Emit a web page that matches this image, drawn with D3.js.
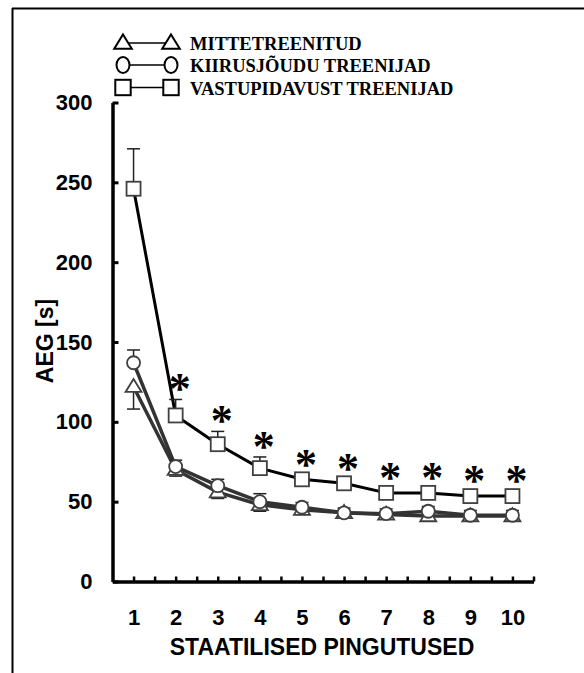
<!DOCTYPE html>
<html>
<head>
<meta charset="utf-8">
<script src="https://cdn.jsdelivr.net/npm/d3@7"></script>
<style>
  body { margin: 0; background: #fff; }
  svg { display: block; }
</style>
</head>
<body>
<svg id="chart" width="584" height="673"></svg>
<script>
// Data
// ----
const sessions = [1, 2, 3, 4, 5, 6, 7, 8, 9, 10];
const seriesNames = ["MITTETREENITUD", "KIIRUSJÕUDU TREENIJAD", "VASTUPIDAVUST TREENIJAD"];
const untrained = [122, 70, 56, 48, 45, 43, 42, 41, 41, 41];
const untrainedErr = [14, 4, 4, 4, 3, 3, 3, 3, 3, 3];
const speedStrength = [137, 72, 60, 50, 46.5, 43, 42.5, 44, 41.5, 41.5];
const speedStrengthErr = [8, 4, 4, 5, 3, 3, 3, 3, 3, 3];
const endurance = [246, 104, 86, 71, 64, 61.5, 55.5, 55.5, 53.5, 53.5];
const enduranceErr = [25, 10, 8, 7, 3, 3, 3, 3, 3, 3];
const significant = [false, true, true, true, true, true, true, true, true, true];
const yTicks = [0, 50, 100, 150, 200, 250, 300];

// Setup
// -----
const svg = d3.select("#chart");
const x = d3.scaleLinear().domain([0.5, 10.5]).range([112.5, 533.5]);
const y = d3.scaleLinear().domain([0, 300]).range([581.5, 102.5]);

// outer frame (top + left only)
svg.append("line").attr("x1", 12).attr("x2", 584).attr("y1", 8.5).attr("y2", 8.5)
  .attr("stroke", "#000").attr("stroke-width", 2);
svg.append("line").attr("x1", 12.5).attr("x2", 12.5).attr("y1", 8).attr("y2", 673)
  .attr("stroke", "#000").attr("stroke-width", 2);

// Axes
// ----
const yAxis = svg.append("g").attr("transform", `translate(${x(0.5)},0)`)
  .call(d3.axisLeft(y).tickValues(yTicks).tickSizeInner(-6).tickSizeOuter(0).tickPadding(20));
yAxis.select(".domain").attr("stroke-width", 3.5);
yAxis.selectAll(".tick line").attr("stroke-width", 3);
yAxis.selectAll("text").attr("font-family", "Arial, 'Liberation Sans', sans-serif")
  .attr("font-weight", "bold").attr("font-size", 22).attr("fill", "#000");

const minorX = d3.range(1, 10.51, 0.5);
const xAxis = svg.append("g").attr("transform", `translate(0,${y(0)})`)
  .call(d3.axisBottom(x).tickValues(minorX).tickSizeInner(-5).tickSizeOuter(0).tickFormat(""));
xAxis.select(".domain").attr("stroke-width", 3.5);
xAxis.selectAll(".tick line").attr("stroke-width", 2.5);

const xLabels = svg.append("g").attr("transform", `translate(0,${y(0)})`)
  .call(d3.axisBottom(x).tickValues(sessions).tickSize(0).tickPadding(28).tickFormat(d3.format("d")));
xLabels.select(".domain").remove();
xLabels.selectAll("text").attr("font-family", "Arial, 'Liberation Sans', sans-serif")
  .attr("font-weight", "bold").attr("font-size", 22).attr("fill", "#000");

svg.append("text").attr("x", 322).attr("y", 655).attr("text-anchor", "middle")
  .attr("font-family", "Arial, 'Liberation Sans', sans-serif").attr("font-weight", "bold")
  .attr("font-size", 23).text("STAATILISED PINGUTUSED");

svg.append("text").attr("transform", "translate(53,341) rotate(-90)").attr("text-anchor", "middle")
  .attr("font-family", "Arial, 'Liberation Sans', sans-serif").attr("font-weight", "bold")
  .attr("font-size", 23).text("AEG [s]");

// Series
// ------
const series = [
  { name: seriesNames[0], vals: untrained, err: untrainedErr, dir: -1, shape: "triangle", line: "#333", lw: 3.5 },
  { name: seriesNames[1], vals: speedStrength, err: speedStrengthErr, dir: 1, shape: "circle", line: "#333", lw: 3.5 },
  { name: seriesNames[2], vals: endurance, err: enduranceErr, dir: 1, shape: "square", line: "#000", lw: 3 }
];

const lineGen = d3.line().x((d, i) => x(sessions[i])).y(d => y(d));
series.forEach(s => {
  svg.append("path").attr("d", lineGen(s.vals)).attr("fill", "none")
    .attr("stroke", s.line).attr("stroke-width", s.lw).attr("stroke-linejoin", "round");
});

// error bars
series.forEach(s => {
  const g = svg.append("g").attr("stroke", "#222").attr("stroke-width", 1.5);
  s.vals.forEach((v, i) => {
    const cx = x(sessions[i]);
    const end = y(v + s.dir * s.err[i]);
    g.append("line").attr("x1", cx).attr("x2", cx).attr("y1", y(v)).attr("y2", end);
    g.append("line").attr("x1", cx - 6.5).attr("x2", cx + 6.5).attr("y1", end).attr("y2", end);
  });
});

function drawShape(g, shape, cx, cy, sc) {
  if (shape === "triangle") {
    const w = 8 * sc, h = 13 * sc;
    g.append("path").attr("d", `M${cx},${cy - h * 0.6}L${cx + w},${cy + h * 0.4}L${cx - w},${cy + h * 0.4}Z`);
  } else if (shape === "circle") {
    g.append("ellipse").attr("cx", cx).attr("cy", cy).attr("rx", 6.5 * sc).attr("ry", 6.5 * sc);
  } else {
    g.append("rect").attr("x", cx - 7 * sc).attr("y", cy - 7 * sc).attr("width", 14 * sc).attr("height", 14 * sc);
  }
}

// markers
series.forEach(s => {
  const g = svg.append("g").attr("fill", "#fff").attr("stroke", "#404040").attr("stroke-width", 1.8);
  s.vals.forEach((v, i) => drawShape(g, s.shape, x(sessions[i]), y(v), 1));
});

// significance stars
const endSeries = series[2];
endSeries.vals.forEach((v, i) => {
  if (!significant[i]) return;
  svg.append("text").attr("x", x(sessions[i]) + 4).attr("y", y(v + endSeries.err[i]) + 4)
    .attr("text-anchor", "middle").attr("font-family", "'Liberation Serif', 'Times New Roman', serif")
    .attr("font-weight", "bold").attr("font-size", 44).text("*");
});

// Legend
// ------
const legendY = [43, 65, 87.5];
series.forEach((s, i) => {
  const g = svg.append("g");
  g.append("line").attr("x1", 123).attr("x2", 171).attr("y1", legendY[i]).attr("y2", legendY[i])
    .attr("stroke", "#000").attr("stroke-width", 1.4);
  const sg = g.append("g").attr("fill", "#fff").attr("stroke", "#000").attr("stroke-width", 2);
  [123, 171].forEach(cx => {
    if (s.shape === "circle") {
      sg.append("ellipse").attr("cx", cx).attr("cy", legendY[i]).attr("rx", 6.5).attr("ry", 8);
    } else {
      drawShape(sg, s.shape, cx, legendY[i], 1.1);
    }
  });
  g.append("text").attr("x", 190).attr("y", legendY[i] + 7)
    .attr("font-family", "'Liberation Serif', 'Times New Roman', serif").attr("font-weight", "bold")
    .attr("font-size", 18.5).text(s.name);
});
</script>
</body>
</html>
